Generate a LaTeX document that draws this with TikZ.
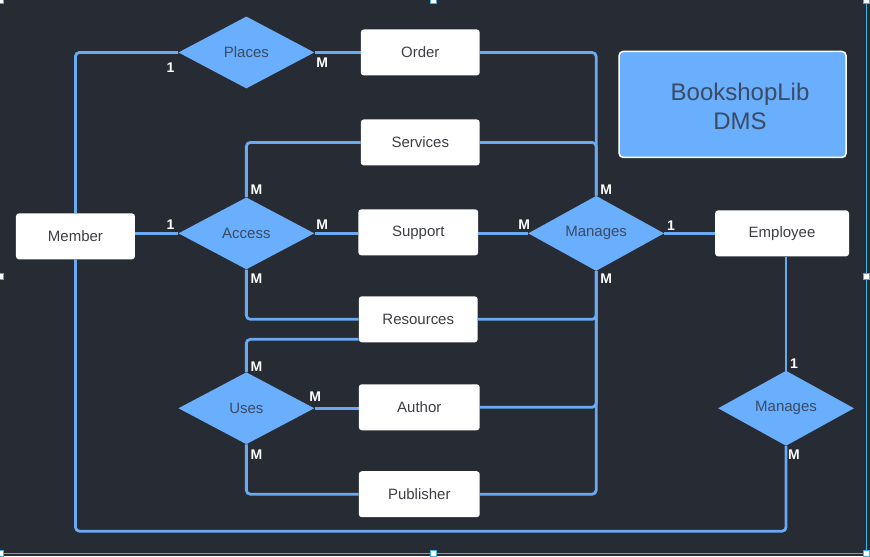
\documentclass[tikz,border=0pt]{standalone}
\usepackage{fontspec}
\setmainfont{Liberation Sans}
\usetikzlibrary{shapes.geometric}
\definecolor{bg}{HTML}{272B33}
\definecolor{ln}{HTML}{6AAAF2}
\definecolor{dfill}{HTML}{6AAEFE}
\definecolor{dtext}{HTML}{3A4B63}
\definecolor{btext}{HTML}{3C3F44}
\definecolor{sel}{HTML}{3FB4E0}
\pgfdeclarelayer{bottom}
\pgfdeclarelayer{edges}
\pgfsetlayers{bottom,edges,main}
\tikzset{
  ent/.style={draw=none, fill=white, rounded corners=3pt, minimum height=46pt, text=btext, font=\fontsize{15}{18}\selectfont, inner sep=0pt},
  rel/.style={diamond, fill=dfill, minimum width=136pt, minimum height=72pt, inner sep=0pt, text=dtext, font=\fontsize{15}{18}\selectfont},
  conn/.style={draw=ln, line width=2.8pt, rounded corners=4pt},
  card/.style={text=white, font=\bfseries\fontsize{14}{16}\selectfont, inner sep=0pt},
  handle/.style={draw=sel, fill=white, line width=1pt, minimum size=6pt, inner sep=0pt}
}
\begin{document}
\begin{tikzpicture}[x=1pt,y=-1pt]
\begin{pgfonlayer}{bottom}
\fill[bg] (0,0) rectangle (870,556);
\draw[sel, line width=1pt] (866.5,0) -- (866.5,553.5) -- (0,553.5);
\end{pgfonlayer}
\useasboundingbox (0,0) rectangle (870,556);

% entities
\node[ent, minimum width=119pt] (order) at (420,52) {Order};
\node[ent, minimum width=119pt] (services) at (420,142) {Services};
\node[ent, minimum width=120pt] (support) at (418,232) {Support};
\node[ent, minimum width=119pt] (resources) at (418,319) {Resources};
\node[ent, minimum width=121pt] (author) at (419,407) {Author};
\node[ent, minimum width=121pt] (publisher) at (419,494) {Publisher};
\node[ent, minimum width=119pt] (member) at (75,236) {Member};
\node[ent, minimum width=134pt] (employee) at (782,233) {Employee};

% relationships
\node[rel] (places) at (246,52) {Places};
\node[rel] (access) at (246,233) {Access};
\node[rel] (manages) at (596,233) {Manages};
\node[rel] (uses) at (246,408) {Uses};
\node[rel] (manages2) at (786,408) {Manages};

% title box
\node[draw=white, line width=1.5pt, fill=dfill, rounded corners=4pt, minimum width=227pt, minimum height=106pt] (title) at (732.5,104) {};
\node[text=dtext, font=\fontsize{24}{29}\selectfont, align=center] (titletext) at (740,106) {BookshopLib\\DMS};

% connectors
\begin{pgfonlayer}{edges}
\draw[conn] (member.north) |- (places.west);
\draw[conn] (places.east) -- (order.west);
\draw[conn] (order.east) -| (manages.north);
\draw[conn] (services.east) -| (manages.north);
\draw[conn] (services.west) -| (access.north);
\draw[conn] (member.east |- access.west) -- (access.west);
\draw[conn] (access.east) -- (access.east -| support.west);
\draw[conn] (support.east |- manages.west) -- (manages.west);
\draw[conn] (manages.east) -- (manages.east -| employee.west);
\draw[conn] (access.south) |- (resources.west);
\draw[conn] (resources.east) -| (manages.south);
\draw[conn] (manages.south) |- (publisher.east);
\draw[conn] (author.east) -| (manages.south);
\coordinate (resBL) at ([yshift=-20pt]resources.west);
\draw[conn] (resBL) -| (uses.north);
\draw[conn] (uses.east) -- (uses.east -| author.west);
\draw[conn] (uses.south) |- (publisher.west);
\draw[conn] (manages2.north |- employee.south) -- (manages2.north);
\coordinate (botR) at (786,531);
\draw[conn] (manages2.south) -- (botR) -| (member.south);
\end{pgfonlayer}

% cardinalities
\node[card] (c1) at (170,67) {1};
\node[card] (c2) at (322,62) {M};
\node[card] (c3) at (606,189) {M};
\node[card] (c4) at (256,189) {M};
\node[card] (c5) at (170,224) {1};
\node[card] (c6) at (322,224) {M};
\node[card] (c7) at (524,224) {M};
\node[card] (c8) at (671,225) {1};
\node[card] (c9) at (256,278) {M};
\node[card] (c10) at (606,278) {M};
\node[card] (c11) at (256,366) {M};
\node[card] (c12) at (315,396) {M};
\node[card] (c13) at (256,454) {M};
\node[card] (c14) at (794,363) {1};
\node[card] (c15) at (794,454) {M};

% selection handles
\foreach \p in {(0,0),(433,0),(866,0),(0,276),(866,276),(0,553),(433,553),(866,553)}{
  \node[handle] at \p {};
}
\end{tikzpicture}
\end{document}
